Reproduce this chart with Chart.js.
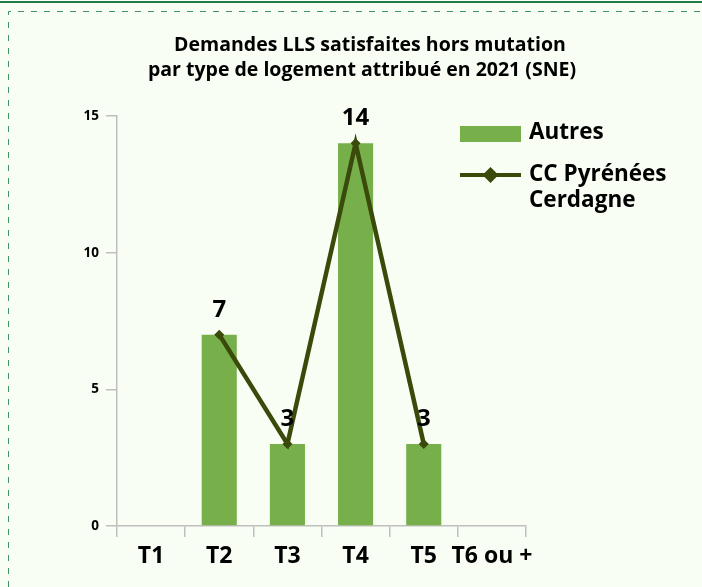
<!DOCTYPE html>
<html>
<head>
<meta charset="utf-8">
<script src="https://cdn.jsdelivr.net/npm/chart.js@4/dist/chart.umd.min.js"></script>
<style>
  html, body { margin: 0; padding: 0; background: #f8fef3; }
  #wrap { position: relative; width: 702px; height: 587px; }
</style>
</head>
<body>
<div id="wrap"><canvas id="c" width="702" height="587"></canvas></div>
<script>
// Logements attribués par type (demandes satisfaites hors mutation, 2021)
const categories = ['T1', 'T2', 'T3', 'T4', 'T5', 'T6 ou +'];
const autresValues = [null, 7, 3, 14, 3, null];
const ccValues = [null, 7, 3, 14, 3, null];
const yTicks = [0, 5, 10, 15];
const titleLines = ['Demandes LLS satisfaites hors mutation', 'par type de logement attribué en 2021 (SNE)'];
const seriesNames = ['Autres', ['CC Pyrénées', 'Cerdagne']];

const BAR_COLOR = '#77b04a';
const LINE_COLOR = '#3a4a0b';
const AXIS_COLOR = '#bfbfbf';
const FONT = '"Open Sans", Lato, sans-serif';

// Cadre, titre, légende et étiquettes de valeurs
const decor = {
  id: 'decor',
  beforeDraw(chart) {
    const ctx = chart.ctx;
    ctx.save();
    ctx.fillStyle = '#f8fef3';
    ctx.fillRect(0, 0, chart.width, chart.height);
    ctx.fillStyle = '#ffffff';
    ctx.fillRect(0, 0, chart.width, 1);
    ctx.fillStyle = '#1f7a45';
    ctx.fillRect(0, 1, chart.width, 2);
    ctx.strokeStyle = '#3f9462';
    ctx.lineWidth = 1;
    ctx.setLineDash([6, 7]);
    ctx.beginPath();
    ctx.moveTo(8.5, chart.height);
    ctx.lineTo(8.5, 11.5);
    ctx.lineTo(chart.width, 11.5);
    ctx.stroke();
    ctx.restore();
  },
  afterDraw(chart) {
    const ctx = chart.ctx;
    ctx.save();
    // titre
    ctx.fillStyle = '#000';
    ctx.font = 'bold 19.5px ' + FONT;
    ctx.textAlign = 'center';
    ctx.textBaseline = 'middle';
    ctx.fillText(titleLines[0], 370, 45);
    ctx.fillText(titleLines[1], 362, 70);

    // légende
    const bar = chart.data.datasets[1];
    const line = chart.data.datasets[0];
    ctx.fillStyle = bar.backgroundColor;
    ctx.fillRect(460, 126, 61, 16);
    ctx.strokeStyle = line.borderColor;
    ctx.lineWidth = 4;
    ctx.beginPath();
    ctx.moveTo(460, 175);
    ctx.lineTo(521, 175);
    ctx.stroke();
    ctx.fillStyle = line.borderColor;
    ctx.beginPath();
    ctx.moveTo(490.5, 167);
    ctx.lineTo(498.5, 175);
    ctx.lineTo(490.5, 183);
    ctx.lineTo(482.5, 175);
    ctx.closePath();
    ctx.fill();

    ctx.fillStyle = '#000';
    ctx.font = 'bold 22.5px ' + FONT;
    ctx.textAlign = 'left';
    ctx.textBaseline = 'middle';
    ctx.fillText(bar.label, 529, 133);
    ctx.fillText(line.label[0], 529, 175);
    ctx.fillText(line.label[1], 529, 201);

    // étiquettes de valeurs au-dessus des points
    const meta = chart.getDatasetMeta(0);
    ctx.font = 'bold 24px ' + FONT;
    ctx.textAlign = 'center';
    meta.data.forEach((pt, i) => {
      const v = line.data[i];
      if (v === null || v === undefined) return;
      ctx.fillText(String(v), pt.x, pt.y - 25);
    });
    ctx.restore();
  }
};

new Chart(document.getElementById('c'), {
  type: 'bar',
  data: {
    labels: categories,
    datasets: [
      {
        type: 'line',
        label: seriesNames[1],
        data: ccValues,
        borderColor: LINE_COLOR,
        backgroundColor: LINE_COLOR,
        borderWidth: 4.5,
        pointStyle: 'rectRot',
        pointRadius: 5,
        pointBorderWidth: 0,
        pointBackgroundColor: LINE_COLOR,
        tension: 0,
        spanGaps: false,
        order: 0
      },
      {
        type: 'bar',
        label: seriesNames[0],
        data: autresValues,
        backgroundColor: BAR_COLOR,
        categoryPercentage: 1,
        barPercentage: 0.515,
        order: 1
      }
    ]
  },
  options: {
    responsive: false,
    animation: false,
    layout: { padding: { left: 0, top: 116, right: 176, bottom: 0 } },
    plugins: {
      legend: { display: false },
      title: { display: false },
      tooltip: { enabled: false }
    },
    scales: {
      x: {
        offset: true,
        grid: {
          offset: true,
          drawOnChartArea: false,
          color: AXIS_COLOR,
          tickLength: 11,
          lineWidth: 1.5
        },
        border: { color: AXIS_COLOR, width: 1.5 },
        ticks: {
          color: '#000',
          font: { family: FONT, size: 23, weight: 'bold' },
          padding: 6,
          maxRotation: 0,
          minRotation: 0,
          autoSkip: false
        },
        afterFit(scale) { scale.height = 61; }
      },
      y: {
        min: 0,
        max: 15,
        afterBuildTicks(scale) { scale.ticks = yTicks.map(v => ({ value: v })); },
        grid: {
          drawOnChartArea: false,
          color: AXIS_COLOR,
          tickLength: 11,
          lineWidth: 1.5
        },
        border: { color: AXIS_COLOR, width: 1.5 },
        ticks: {
          color: '#000',
          font: { family: FONT, size: 13.5, weight: 'bold' },
          padding: 7
        },
        afterFit(scale) { scale.width = 117; }
      }
    }
  },
  plugins: [decor]
});
</script>
</body>
</html>
